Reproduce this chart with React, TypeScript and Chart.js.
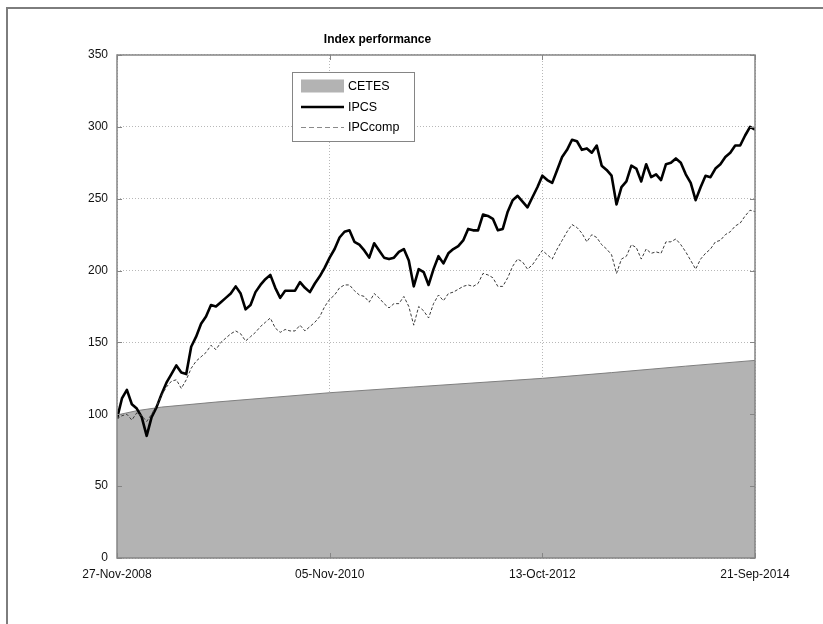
import React, { useEffect, useRef } from 'react';
import { Chart, registerables } from 'chart.js';

Chart.register(...registerables);

const FONT = "'Liberation Sans', Arial, Helvetica, sans-serif";

const chartTitle = 'Index performance';
const seriesNames = ['CETES', 'IPCS', 'IPCcomp'];

// x positions are trading-sample indices; tick labels mark evenly spaced dates
const xTickIndex = [0, 43, 86, 129];
const xTickLabels = ['27-Nov-2008', '05-Nov-2010', '13-Oct-2012', '21-Sep-2014'];
const yMin = 0;
const yMax = 350;
const yStep = 50;

const ipcs = [
  97, 111, 117, 107, 104, 98, 85, 98, 105, 114,
  122, 128, 134, 129, 128, 147, 154, 163, 168, 176,
  175, 178, 181, 184, 189, 184, 173, 176, 185, 190,
  194, 197, 188, 181, 186, 186, 186, 192, 188, 185,
  191, 196, 202, 209, 215, 223, 227, 228, 220, 218,
  214, 209, 219, 214, 209, 208, 209, 213, 215, 207,
  189, 201, 199, 190, 201, 210, 205, 212, 215, 217,
  221, 229, 228, 228, 239, 238, 236, 228, 229, 241,
  249, 252, 248, 244, 251, 258, 266, 263, 261, 270,
  279, 284, 291, 290, 284, 285, 282, 287, 273, 270,
  266, 246, 258, 262, 273, 271, 262, 274, 265, 267,
  263, 274, 275, 278, 275, 267, 261, 249, 258, 266,
  265, 271, 274, 279, 282, 287, 287, 294, 300, 298,
];

const ipcComp = [
  97, 99, 100, 96, 101, 99, 95, 100, 106, 113,
  119, 123, 124, 118, 124, 132, 137, 140, 143, 148,
  145, 150, 153, 156, 158, 156, 151, 154, 157, 161,
  164, 167, 160, 157, 159, 158, 158, 162, 158, 161,
  164, 168, 175, 180, 183, 188, 190, 190, 186, 183,
  182, 178, 184, 181, 177, 174, 177, 177, 182, 175,
  162, 175, 172, 167, 177, 183, 179, 184, 185, 187,
  189, 190, 189, 191, 198, 197, 195, 189, 189, 195,
  203, 208, 206, 201, 204, 209, 214, 211, 208, 215,
  221, 227, 232, 230, 226, 220, 225, 223, 218, 215,
  211, 198, 208, 210, 218, 216, 208, 215, 212, 213,
  212, 220, 220, 222, 218, 213, 207, 201, 208, 212,
  215, 220, 221, 225, 227, 231, 233, 238, 242, 241,
];

const cetesIndex = [0, 4, 9, 20, 43, 60, 86, 100, 115, 129];
const cetesValues = [99.5, 102.5, 105, 108.5, 115, 119, 125, 129, 133.5, 137.5];

export default function App() {
  const ref = useRef<HTMLCanvasElement>(null);

  useEffect(() => {
    const canvas = ref.current;
    if (!canvas) return;
    const n = ipcs.length;

    const boxPlugin = {
      id: 'matlabBox',
      afterDraw(chart: any) {
        const { ctx, chartArea } = chart;
        const { left, right, top, bottom } = chartArea;
        const xs = chart.scales.x;
        const ys = chart.scales.y;
        ctx.save();
        ctx.strokeStyle = '#858585';
        ctx.lineWidth = 1.5;
        ctx.strokeRect(left, top, right - left, bottom - top);
        ctx.lineWidth = 1;
        ctx.beginPath();
        for (let v = yMin; v <= yMax; v += yStep) {
          const py = Math.round(ys.getPixelForValue(v)) + 0.5;
          ctx.moveTo(left, py); ctx.lineTo(left + 5, py);
          ctx.moveTo(right, py); ctx.lineTo(right - 5, py);
        }
        for (const t of xTickIndex) {
          const px = Math.round(xs.getPixelForValue(t)) + 0.5;
          ctx.moveTo(px, bottom); ctx.lineTo(px, bottom - 5);
          ctx.moveTo(px, top); ctx.lineTo(px, top + 5);
        }
        ctx.stroke();
        ctx.restore();
      },
    };

    const legendPlugin = {
      id: 'matlabLegend',
      afterDraw(chart: any) {
        const { ctx, chartArea } = chart;
        const bx = chartArea.left + 175;
        const by = chartArea.top + 17;
        const bw = 122;
        const bh = 69;
        ctx.save();
        ctx.fillStyle = '#ffffff';
        ctx.fillRect(bx, by, bw, bh);
        ctx.strokeStyle = '#858585';
        ctx.lineWidth = 1;
        ctx.strokeRect(bx + 0.5, by + 0.5, bw, bh);
        const rows = [by + 14.5, by + 35, by + 55];
        const sx0 = bx + 9;
        const sx1 = bx + 52;
        // CETES swatch
        ctx.fillStyle = '#b3b3b3';
        ctx.fillRect(sx0, rows[0] - 7, sx1 - sx0, 13);
        // IPCS line
        ctx.strokeStyle = '#000000';
        ctx.lineWidth = 2.5;
        ctx.beginPath();
        ctx.moveTo(sx0, rows[1]); ctx.lineTo(sx1, rows[1]);
        ctx.stroke();
        // IPCcomp dashed
        ctx.strokeStyle = '#8a8a8a';
        ctx.lineWidth = 1;
        ctx.setLineDash([5, 3]);
        ctx.beginPath();
        ctx.moveTo(sx0, rows[2] + 0.5); ctx.lineTo(sx1, rows[2] + 0.5);
        ctx.stroke();
        ctx.setLineDash([]);
        ctx.fillStyle = '#000000';
        ctx.font = `12.5px ${FONT}`;
        ctx.textBaseline = 'middle';
        ctx.textAlign = 'left';
        seriesNames.forEach((name, i) => ctx.fillText(name, sx1 + 4, rows[i] + 0.5));
        ctx.restore();
      },
    };

    const chart = new Chart(canvas, {
      type: 'line',
      data: {
        datasets: [
          {
            label: seriesNames[0],
            data: cetesIndex.map((x, i) => ({ x, y: cetesValues[i] })),
            borderColor: '#7f7f7f',
            backgroundColor: '#b3b3b3',
            borderWidth: 1,
            fill: 'origin',
            pointRadius: 0,
            tension: 0,
            order: 3,
          },
          {
            label: seriesNames[1],
            data: ipcs.map((y, x) => ({ x, y })),
            borderColor: '#000000',
            borderWidth: 2.6,
            borderJoinStyle: 'round',
            fill: false,
            pointRadius: 0,
            tension: 0,
            order: 2,
          },
          {
            label: seriesNames[2],
            data: ipcComp.map((y, x) => ({ x, y })),
            borderColor: '#3a3a3a',
            borderWidth: 1,
            borderDash: [3, 2],
            fill: false,
            pointRadius: 0,
            tension: 0,
            order: 1,
          },
        ],
      },
      options: {
        responsive: false,
        animation: false,
        devicePixelRatio: 1,
        layout: { padding: { left: 0, right: 68, top: 0, bottom: 0 } },
        plugins: {
          legend: { display: false },
          tooltip: { enabled: false },
          title: {
            display: true,
            text: chartTitle,
            color: '#000000',
            font: { family: FONT, size: 12, weight: 'bold' },
            padding: { top: 32.8, bottom: 7.8 },
          },
        },
        scales: {
          x: {
            type: 'linear',
            min: 0,
            max: n - 1,
            z: 1,
            afterBuildTicks: (s: any) => {
              s.ticks = xTickIndex.map((v) => ({ value: v }));
            },
            afterFit: (s: any) => {
              s.height = 66;
            },
            grid: { color: 'rgba(0,0,0,0.28)', lineWidth: 1, drawTicks: false },
            border: { display: false, dash: [1, 2] },
            ticks: {
              autoSkip: false,
              maxRotation: 0,
              padding: 9,
              color: '#111111',
              font: { family: FONT, size: 12 },
              callback: (_v: any, i: number) => xTickLabels[i],
            },
          },
          y: {
            type: 'linear',
            min: yMin,
            max: yMax,
            z: 1,
            afterFit: (s: any) => {
              s.width = 117;
            },
            grid: { color: 'rgba(0,0,0,0.28)', lineWidth: 1, drawTicks: false },
            border: { display: false, dash: [1, 2] },
            ticks: {
              stepSize: yStep,
              padding: 9,
              color: '#111111',
              font: { family: FONT, size: 12 },
            },
          },
        },
      },
      plugins: [boxPlugin, legendPlugin],
    } as any);

    return () => chart.destroy();
  }, []);

  return (
    <>
      <div
        style={{
          position: 'absolute',
          left: 6,
          top: 7,
          width: 817,
          height: 617,
          boxSizing: 'border-box',
          borderTop: '2px solid #7d7d7d',
          borderLeft: '2px solid #7d7d7d',
        }}
      />
      <canvas
        ref={ref}
        width={823}
        height={624}
        style={{ position: 'absolute', left: 0, top: 0, width: 823, height: 624 }}
      />
    </>
  );
}
